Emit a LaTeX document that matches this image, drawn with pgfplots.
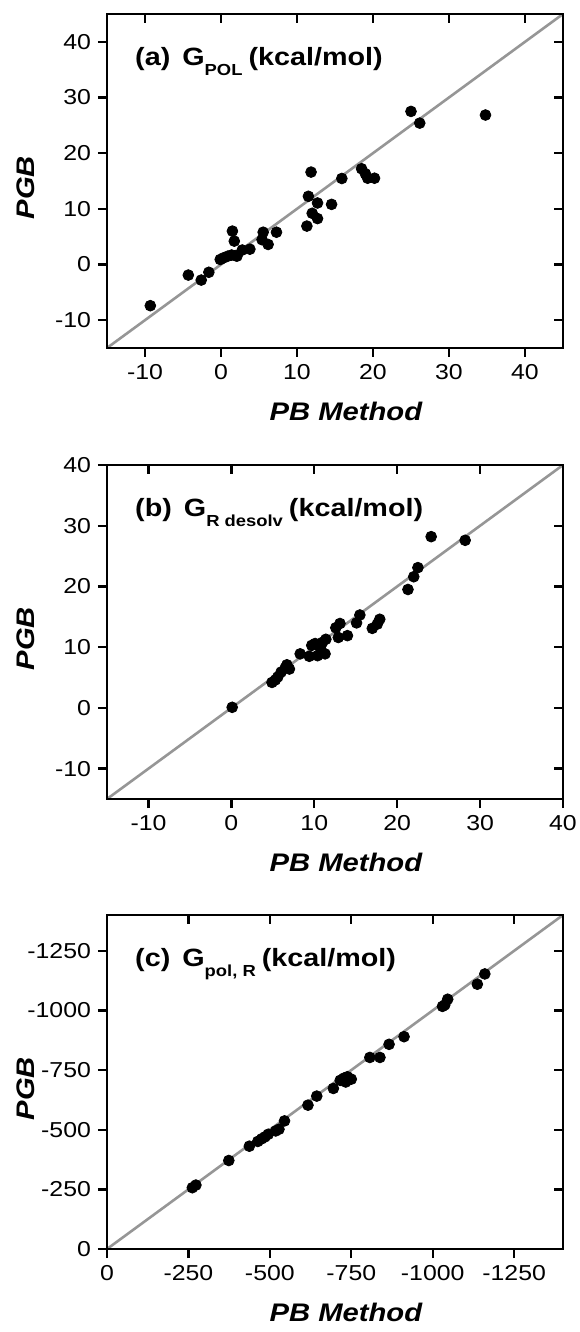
\documentclass[border=0pt]{standalone}
\usepackage{fontspec}
\setmainfont{Liberation Sans}[FakeStretch=1.15]
\usepackage{pgfplots}
\pgfplotsset{compat=1.18}

\definecolor{diag}{RGB}{150,150,150}
\newcommand\sub[1]{\raisebox{-5pt}{\fontsize{8}{8}\selectfont #1}\hspace{3pt}}

\tikzset{ttl/.style={anchor=base west, inner sep=0pt,
    font=\fontsize{12.5}{12.5}\selectfont\bfseries}}

\pgfplotsset{
  panel/.style={
    scale only axis, width=228pt, height=167pt,
    axis line style={line width=1.4pt},
    every tick/.style={black, line width=1.2pt},
    major tick length=4.5pt,
    tick align=outside,
    xtick pos=bottom, ytick pos=left,
    tick label style={font=\fontsize{10.8}{10.8}\selectfont},
    /pgf/number format/assume math mode=true,
    /pgf/number format/1000 sep={},
    xlabel={PB Method}, ylabel={PGB},
    xlabel style={font=\fontsize{12.7}{12.7}\selectfont\bfseries\itshape,
      at={(axis description cs:0.524,-0.19)}, anchor=center},
    ylabel style={font=\fontsize{12.7}{12.7}\selectfont\bfseries\itshape,
      at={(axis description cs:-0.178,0.48)}, anchor=center},
  },
  mirror/.style={
    scale only axis, width=228pt, height=167pt,
    axis line style={line width=1.4pt},
    every tick/.style={black, line width=1.2pt},
    major tick length=4.5pt,
    tick align=inside,
    xtick pos=top, ytick pos=right,
    xticklabels={}, yticklabels={},
  },
  dots/.style={only marks, mark=*, mark size=2.7pt, black},
  line/.style={diag, line width=1.3pt, no marks},
}

\begin{document}
\begin{tikzpicture}
\useasboundingbox (0,0) rectangle (289.5pt,-666pt);

% (a)
\begin{axis}[panel, at={(53.5pt,-7pt)}, anchor=north west,
  xmin=-15, xmax=45, ymin=-15, ymax=45,
  xtick={-10,0,...,40}, ytick={-10,0,...,40}]
\addplot[line] coordinates {(-15,-15) (45,45)};
\addplot[dots] coordinates {
(-9.3,-7.4) (-4.3,-1.9) (-2.6,-2.8) (-1.6,-1.4) (-0.1,0.9) (0.35,1.2)
(0.9,1.5) (1.4,1.7) (1.9,1.6) (2.1,1.5) (1.5,6.0) (1.75,4.2)
(2.8,2.6) (3.8,2.75) (5.55,5.8) (5.4,4.45) (6.2,3.6) (7.3,5.8)
(11.3,6.9) (11.5,12.25) (11.85,16.6) (12.0,9.2) (12.7,11.05) (12.7,8.25)
(14.55,10.8) (15.9,15.45) (18.5,17.2) (19.0,16.3) (19.3,15.5) (20.2,15.5)
(25.0,27.5) (26.15,25.4) (34.8,26.85)};
\node[ttl] at (axis description cs:0.061,0.847) {(a)\hspace{6pt}G\sub{POL}(kcal/mol)};
\end{axis}
\begin{axis}[mirror, at={(53.5pt,-7pt)}, anchor=north west,
  xmin=-15, xmax=45, ymin=-15, ymax=45,
  xtick={-10,0,...,40}, ytick={-10,0,...,40}]
\end{axis}

% (b)
\begin{axis}[panel, at={(53.5pt,-232.5pt)}, anchor=north west,
  xmin=-15, xmax=40, ymin=-15, ymax=40,
  xtick={-10,0,...,40}, ytick={-10,0,...,40}]
\addplot[line] coordinates {(-15,-15) (40,40)};
\addplot[dots] coordinates {
(0.1,0.1) (4.9,4.2) (5.3,4.6) (5.6,5.1) (6.0,5.9) (6.5,6.6) (6.7,7.1)
(7.0,6.4) (8.3,8.9) (9.4,8.5) (9.7,10.3) (10.1,10.6) (10.4,8.6) (10.6,10.4)
(10.8,9.6) (11.0,10.8) (11.3,8.9) (11.4,11.3) (12.6,13.2) (12.9,11.6)
(13.1,13.9) (14.0,11.9) (15.1,14.0) (15.5,15.3) (17.0,13.1) (17.6,13.8)
(17.9,14.6) (21.3,19.5) (22.0,21.6) (22.5,23.1) (24.1,28.2) (28.2,27.6)};
\node[ttl] at (axis description cs:0.061,0.847) {(b)\hspace{6pt}G\sub{R desolv}(kcal/mol)};
\end{axis}
\begin{axis}[mirror, at={(53.5pt,-232.5pt)}, anchor=north west,
  xmin=-15, xmax=40, ymin=-15, ymax=40,
  xtick={-10,0,...,40}, ytick={-10,0,...,40}]
\end{axis}

% (c)
\begin{axis}[panel, at={(53.5pt,-457.5pt)}, anchor=north west,
  x dir=reverse, y dir=reverse,
  xmin=-1400, xmax=0, ymin=-1400, ymax=0,
  xtick={-1250,-1000,-750,-500,-250,0}, ytick={-1250,-1000,-750,-500,-250,0}]
\addplot[line] coordinates {(0,0) (-1400,-1400)};
\addplot[dots] coordinates {
(-262,-257) (-273,-268) (-374,-371) (-437,-431) (-463,-451) (-475,-462)
(-485,-470) (-495,-481) (-518,-495) (-528,-502) (-545,-537) (-617,-603)
(-644,-641) (-695,-673) (-716,-707) (-727,-716) (-733,-700) (-738,-722)
(-750,-712) (-807,-803) (-838,-803) (-866,-858) (-912,-890) (-1030,-1017)
(-1037,-1023) (-1046,-1047) (-1137,-1110) (-1160,-1153)};
\node[ttl] at (axis description cs:0.061,0.847) {(c)\hspace{6pt}G\sub{pol, R}(kcal/mol)};
\end{axis}
\begin{axis}[mirror, at={(53.5pt,-457.5pt)}, anchor=north west,
  x dir=reverse, y dir=reverse,
  xmin=-1400, xmax=0, ymin=-1400, ymax=0,
  xtick={-1250,-1000,-750,-500,-250,0}, ytick={-1250,-1000,-750,-500,-250,0}]
\end{axis}
\end{tikzpicture}
\end{document}
